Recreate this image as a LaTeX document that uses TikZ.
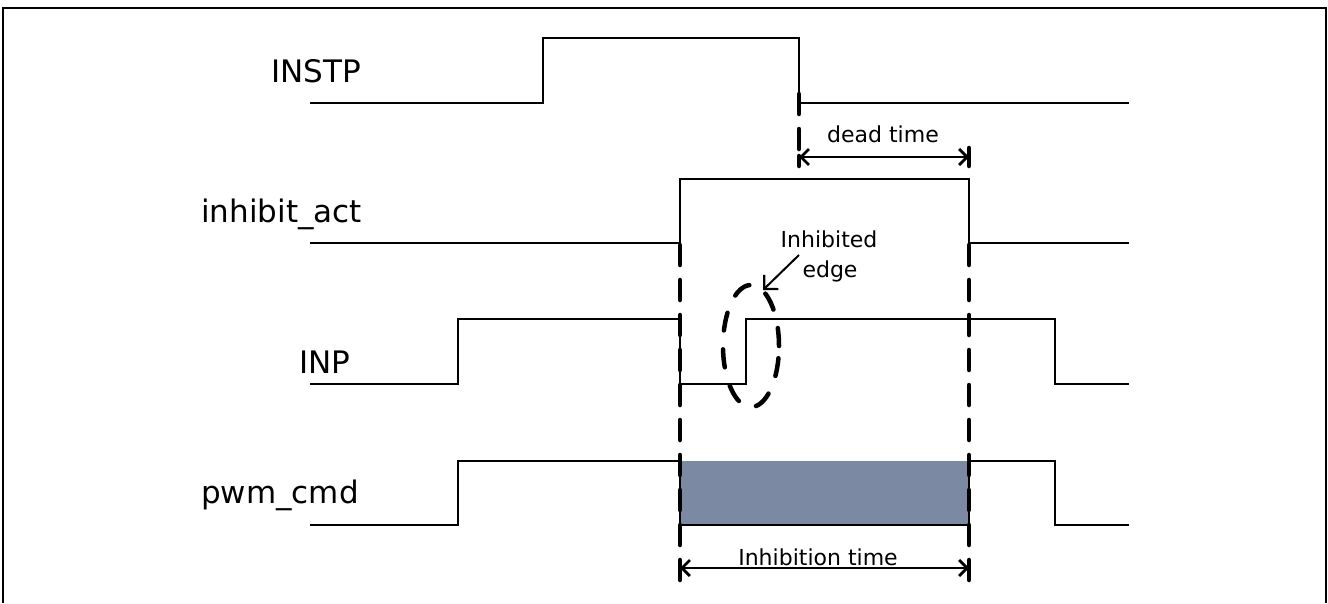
\documentclass[tikz,border=0pt]{standalone}
\usepackage{fontspec}
\setmainfont{DejaVu Sans}
\usetikzlibrary{arrows.meta}
\definecolor{boxfill}{RGB}{124,137,162}
\begin{document}
\begin{tikzpicture}[x=1pt,y=-1pt,
  sig/.style={line width=2.2pt, line join=miter},
  guide/.style={line width=4.5pt, line cap=round, dash pattern=on 20pt off 15pt},
  big/.style={inner sep=0pt, anchor=base west, font=\fontsize{31}{37}\selectfont},
  small/.style={inner sep=0pt, anchor=base, font=\fontsize{22}{26}\selectfont},
  dim/.style={line width=2.2pt, {Straight Barb[length=8pt,width=16pt,line width=2.8pt]}-{Straight Barb[length=8pt,width=16pt,line width=2.8pt]}},
  pointer/.style={line width=2pt, -{Straight Barb[length=10pt,width=20pt,line width=2.2pt]}},
  stopbar/.style={line width=4.5pt, line cap=round},
  edgering/.style={line width=4.5pt, line cap=round, dash pattern=on 18pt off 19pt}]
\useasboundingbox (0,0) rectangle (1328,603);
% frame
\draw[line width=1.5pt] (3,603) -- (3,8) -- (1326,8) -- (1326,603);

% shaded inhibition region
\fill[boxfill] (680,461) rectangle (969,525);

% labels
\node[big] (lInstp) at (271,82) {INSTP};
\node[big] (lInh) at (201,222) {inhibit\_act};
\node[big] (lInp) at (299,373) {INP};
\node[big] (lPwm) at (201,503) {pwm\_cmd};

% signals
\draw[sig] (310,103) -- (543,103) -- (543,38) -- (799,38) -- (799,103) -- (1129,103);
\draw[sig] (310,243) -- (680,243) -- (680,179) -- (969,179) -- (969,243) -- (1129,243);
\draw[sig] (310,384) -- (458,384) -- (458,319) -- (680,319) -- (680,384) -- (746,384) -- (746,319) -- (1055,319) -- (1055,384) -- (1129,384);
\draw[sig] (310,525) -- (458,525) -- (458,461) -- (680,461) -- (680,525) -- (969,525) -- (969,461) -- (1055,461) -- (1055,525) -- (1129,525);

% guide lines
\draw[guide] (680,245) -- (680,580);
\draw[guide] (969,245) -- (969,580);
\draw[guide] (799,94) -- (799,150);
\draw[stopbar] (799,156) -- (799,166);
\draw[stopbar] (969,148) -- (969,166);

% dead time
\coordinate (dtA) at (799,157);
\coordinate (dtB) at (969,157);
\draw[dim] (dtA) -- (dtB);
\node[small] (tDead) at (883,142) {dead time};

% inhibition time
\coordinate (itA) at (680,568);
\coordinate (itB) at (969,568);
\draw[dim] (itA) -- (itB);
\node[small] (tInhib) at (818,565) {Inhibition time};

% inhibited edge
\draw[edgering] (751,346) ellipse [x radius=28pt, y radius=61pt];
\node[small] (tInh1) at (829,247) {Inhibited};
\node[small] (tInh2) at (830,277) {edge};
\coordinate (pA) at (799,255);
\coordinate (pB) at (763,290);
\draw[pointer] (pA) -- (pB);
\end{tikzpicture}
\end{document}
